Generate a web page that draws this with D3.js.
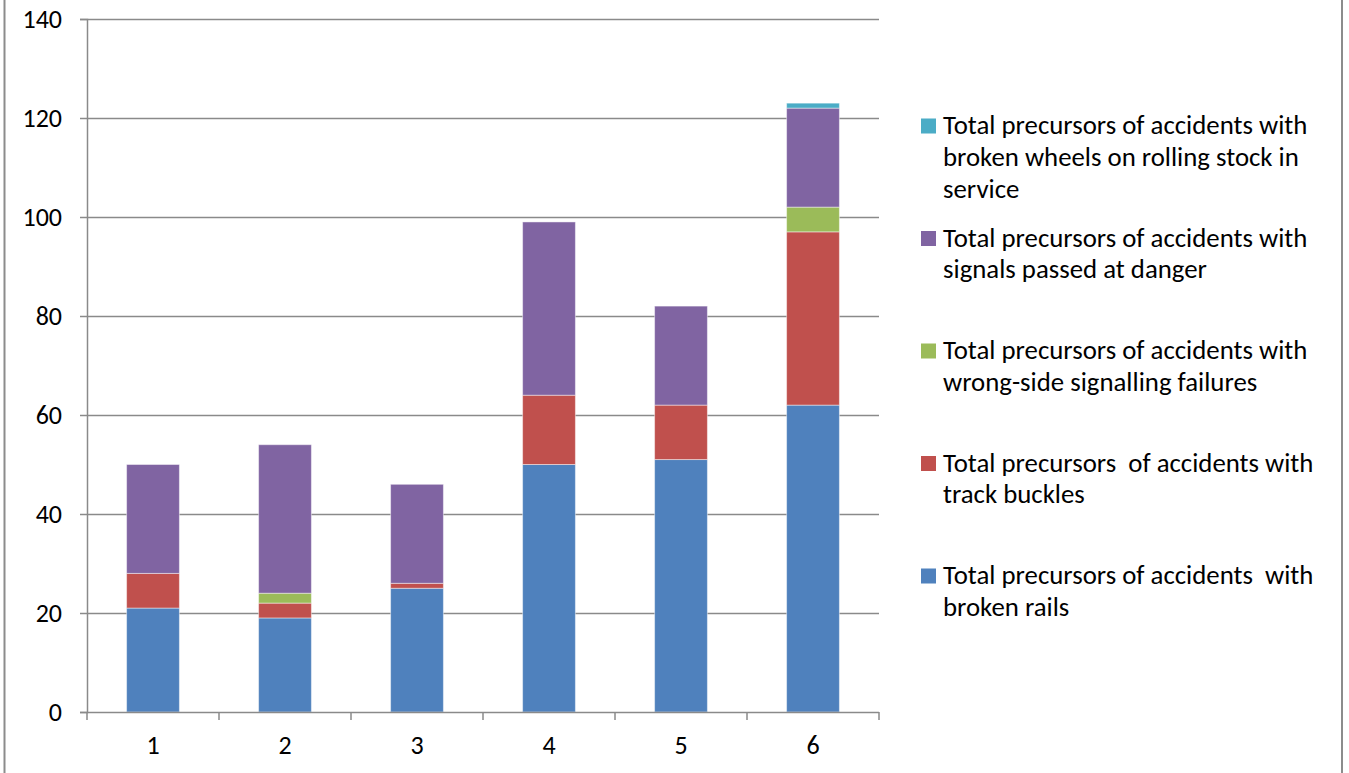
<!DOCTYPE html>
<html>
<head>
<meta charset="utf-8">
<script src="https://cdn.jsdelivr.net/npm/d3@7"></script>
<style>
  html, body { margin: 0; padding: 0; background: #fff; }
  svg { display: block; font-family: Carlito, Lato, "Open Sans", sans-serif; }
</style>
</head>
<body>
<svg id="chart" width="1349" height="773"></svg>
<script>
// Periods along the x axis
const categories = ["1", "2", "3", "4", "5", "6"];

// Precursor counts per series, one value per period
const brokenRails     = [21, 19, 25, 50, 51, 62];
const trackBuckles    = [7, 3, 1, 14, 11, 35];
const wrongSideSignal = [0, 2, 0, 0, 0, 5];
const spad            = [22, 30, 20, 35, 20, 20];
const brokenWheels    = [0, 0, 0, 0, 0, 1];

const yTicks = [0, 20, 40, 60, 80, 100, 120, 140];

// Stack order bottom → top
const seriesKeys = ["rails", "buckles", "wsf", "spad", "wheels"];
const seriesValues = {
  rails: brokenRails, buckles: trackBuckles, wsf: wrongSideSignal,
  spad: spad, wheels: brokenWheels
};
const seriesColors = {
  rails: "#4f81bd", buckles: "#c0504d", wsf: "#9bbb59",
  spad: "#8064a2", wheels: "#4bacc6"
};

// Legend entries, top → bottom (reverse of stack order), pre-wrapped lines
const legendItems = [
  { key: "wheels",  lines: ["Total precursors of accidents with", "broken wheels on rolling stock in", "service"] },
  { key: "spad",    lines: ["Total precursors of accidents with", "signals passed at danger"] },
  { key: "wsf",     lines: ["Total precursors of accidents with", "wrong-side signalling failures"] },
  { key: "buckles", lines: ["Total precursors  of accidents with", "track buckles"] },
  { key: "rails",   lines: ["Total precursors of accidents  with", "broken rails"] }
];

const rows = categories.map((c, i) => {
  const r = { cat: c };
  seriesKeys.forEach(k => r[k] = seriesValues[k][i]);
  return r;
});

const AXIS_FONT = 26;
const LEGEND_FONT = 26.8;
const svg = d3.select("#chart");

// Outer chart frame (runs past the visible area at top and bottom)
svg.append("rect")
  .attr("x", 4.5).attr("y", -10)
  .attr("width", 1337.5).attr("height", 800)
  .attr("fill", "none").attr("stroke", "#8c8c8c").attr("stroke-width", 2);

const plot = { left: 87, right: 879, top: 19, bottom: 712 };

const x = d3.scaleBand()
  .domain(categories)
  .range([plot.left, plot.right])
  .paddingInner(0.6).paddingOuter(0.3);

const y = d3.scaleLinear()
  .domain([0, 140])
  .range([plot.bottom, plot.top]);

// Horizontal gridlines
svg.append("g")
  .selectAll("line")
  .data(yTicks.filter(t => t > 0))
  .join("line")
  .attr("x1", plot.left).attr("x2", plot.right)
  .attr("y1", d => Math.round(y(d)) + 0.5).attr("y2", d => Math.round(y(d)) + 0.5)
  .attr("stroke", "#8a8a8a").attr("stroke-width", 1.5);

// Stacked bars
const stack = d3.stack().keys(seriesKeys);
const layers = stack(rows);

svg.append("g")
  .selectAll("g")
  .data(layers)
  .join("g")
  .attr("fill", d => seriesColors[d.key])
  .selectAll("rect")
  .data(d => d.filter(p => p[1] - p[0] > 0))
  .join("rect")
  .attr("x", d => x(d.data.cat))
  .attr("width", x.bandwidth())
  .attr("y", d => y(d[1]))
  .attr("height", d => y(d[0]) - y(d[1]))
  .attr("stroke", "rgba(255,255,255,0.45)")
  .attr("stroke-width", 1);

// Y axis
const yAxis = d3.axisLeft(y)
  .tickValues(yTicks)
  .tickSize(7)
  .tickPadding(18);

const gy = svg.append("g")
  .attr("transform", `translate(${plot.left},0)`)
  .call(yAxis);
gy.select(".domain").attr("stroke", "#8a8a8a").attr("stroke-width", 1.5);
gy.selectAll(".tick line").attr("stroke", "#8a8a8a").attr("stroke-width", 1.5);
gy.selectAll("text")
  .attr("font-size", AXIS_FONT)
  .attr("font-family", "Carlito, Lato, sans-serif")
  .attr("fill", "#000");

// X axis with boundary ticks between categories
const xAxisG = svg.append("g");
xAxisG.append("line")
  .attr("x1", plot.left).attr("x2", plot.right)
  .attr("y1", plot.bottom + 0.5).attr("y2", plot.bottom + 0.5)
  .attr("stroke", "#8a8a8a").attr("stroke-width", 1.5);

const boundaries = d3.range(categories.length + 1).map(i => plot.left + i * (plot.right - plot.left) / categories.length);
xAxisG.selectAll("line.bt")
  .data(boundaries)
  .join("line")
  .attr("class", "bt")
  .attr("x1", d => d).attr("x2", d => d)
  .attr("y1", plot.bottom).attr("y2", plot.bottom + 8)
  .attr("stroke", "#8a8a8a").attr("stroke-width", 1.5);

xAxisG.selectAll("text")
  .data(categories)
  .join("text")
  .attr("x", d => x(d) + x.bandwidth() / 2)
  .attr("y", 754)
  .attr("text-anchor", "middle")
  .attr("font-size", AXIS_FONT)
  .attr("fill", "#000")
  .text(d => d);

// Legend
const legend = svg.append("g");
const legendTop = 126, legendGap = 112.5, lineH = 31.8;
legendItems.forEach((item, i) => {
  const cy = legendTop + i * legendGap;
  legend.append("rect")
    .attr("x", 921).attr("y", cy - 7.5)
    .attr("width", 15).attr("height", 15)
    .attr("fill", seriesColors[item.key]);
  const t = legend.append("text")
    .attr("x", 943)
    .attr("font-size", LEGEND_FONT)
    .attr("fill", "#000")
    .attr("xml:space", "preserve")
    .style("white-space", "pre");
  item.lines.forEach((ln, j) => {
    t.append("tspan")
      .attr("x", 943)
      .attr("y", cy + 8 + j * lineH)
      .text(ln);
  });
});
</script>
</body>
</html>
